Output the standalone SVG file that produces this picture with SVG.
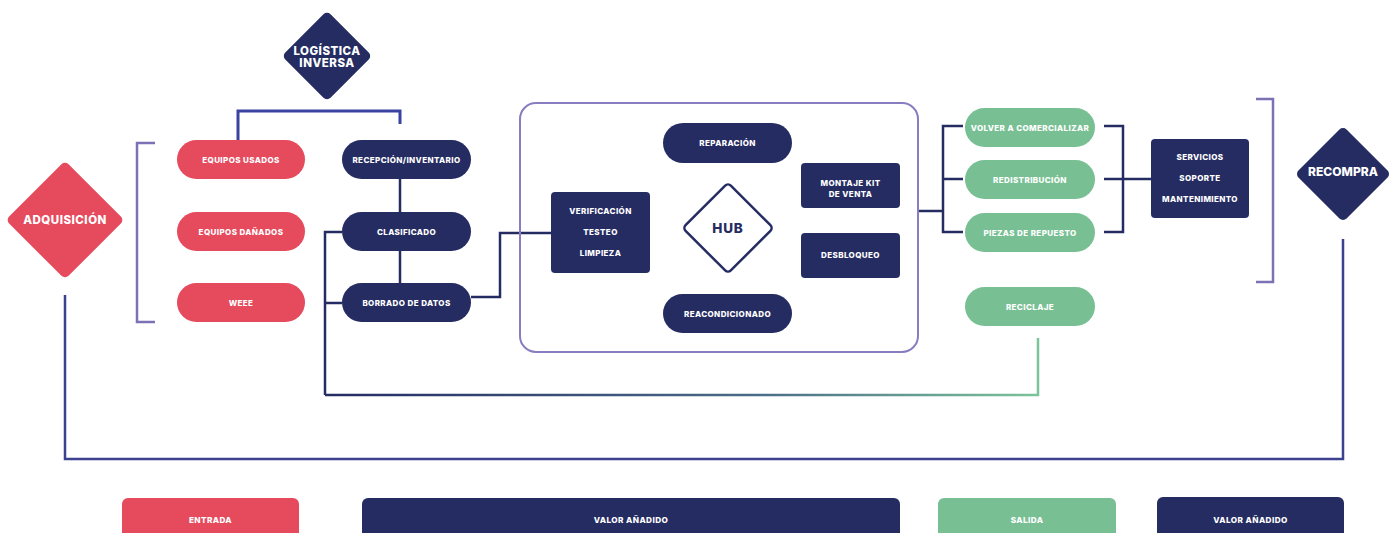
<svg xmlns="http://www.w3.org/2000/svg" width="1397" height="533" viewBox="0 0 1397 533">
<defs>
<style>
.t{font-family:Inter,"Open Sans","DejaVu Sans",sans-serif;font-weight:800;fill:#fff;text-anchor:middle}
.s{font-size:8px;letter-spacing:0.4px}
.l{font-size:11.5px;letter-spacing:0.5px}
.lg{font-size:8.2px;letter-spacing:0.4px}
.red{fill:#e64a5d}
.navy{fill:#252c62}
.green{fill:#78c093}
.c{fill:none;stroke:#252c62;stroke-width:2.5}
.br{fill:none;stroke:#7d71b6;stroke-width:2.5}
</style>
<linearGradient id="g" gradientUnits="userSpaceOnUse" x1="325" y1="0" x2="1040" y2="0">
<stop offset="0" stop-color="#252c62"/>
<stop offset="0.6" stop-color="#4a6b88"/>
<stop offset="1" stop-color="#7cc49a"/>
</linearGradient>
</defs>
<rect width="1397" height="533" fill="#fff"/>

<g id="connectors">
<path d="M238,140 V111 H400 V124" fill="none" stroke="#3a43a0" stroke-width="3"/>
<path class="c" d="M400,179 V212 M400,251 V283"/>
<path class="c" d="M342,232 H325 V395 M325,303 H342"/>
<path d="M325,395 H1038 V338" fill="none" stroke="url(#g)" stroke-width="2.5"/>
<path class="c" d="M471,297 H500 V233 H551"/>
<path class="c" d="M918,211 H943 M963,126 H943 V232 H963 M943,179 H963"/>
<path class="c" d="M1104,126 H1123 V232 H1104 M1104,179 H1151"/>
<path class="br" d="M155,143 H137 V322 H155"/>
<path class="br" d="M1256,99 H1273 V282 H1256"/>
<path d="M65,295 V459 H1343 V239" fill="none" stroke="#3c4190" stroke-width="2.5"/>
</g>

<g id="logistica">
<rect class="navy" x="-32" y="-32" width="64" height="64" rx="5" transform="translate(327,56) rotate(45)"/>
<text class="t l" x="327" y="55">LOGÍSTICA</text>
<text class="t l" x="327" y="67">INVERSA</text>
</g>
<g id="adquisicion">
<rect class="red" x="-42" y="-42" width="84" height="84" rx="5" transform="translate(65,220) rotate(45)"/>
<text class="t l" x="65" y="224">ADQUISICIÓN</text>
</g>
<g id="recompra">
<rect class="navy" x="-34" y="-34" width="68" height="68" rx="5" transform="translate(1343,174) rotate(45)"/>
<text class="t" x="1343" y="175.5" font-size="12">RECOMPRA</text>
</g>

<g id="equipos-usados"><rect class="red" x="177" y="140" width="128" height="39" rx="19.5"/><text class="t s" x="241" y="162.5">EQUIPOS USADOS</text></g>
<g id="equipos-danados"><rect class="red" x="177" y="212" width="128" height="39" rx="19.5"/><text class="t s" x="241" y="234.5">EQUIPOS DAÑADOS</text></g>
<g id="weee"><rect class="red" x="177" y="283" width="128" height="39" rx="19.5"/><text class="t s" x="241" y="305.5">WEEE</text></g>

<g id="recepcion"><rect class="navy" x="342" y="140" width="129" height="39" rx="19.5"/><text class="t s" x="406.5" y="162.5">RECEPCIÓN/INVENTARIO</text></g>
<g id="clasificado"><rect class="navy" x="342" y="212" width="129" height="39" rx="19.5"/><text class="t s" x="406.5" y="234.5">CLASIFICADO</text></g>
<g id="borrado"><rect class="navy" x="342" y="283" width="129" height="39" rx="19.5"/><text class="t s" x="406.5" y="305.5">BORRADO DE DATOS</text></g>

<g id="hub-box"><rect x="520" y="103" width="398" height="249" rx="16" fill="none" stroke="#8a7cc0" stroke-width="2"/></g>
<g id="reparacion"><rect class="navy" x="663" y="123" width="129" height="40" rx="20"/><text class="t s" x="727.5" y="146">REPARACIÓN</text></g>
<g id="reacondicionado"><rect class="navy" x="663" y="294" width="129" height="39" rx="19.5"/><text class="t s" x="727.5" y="316.5">REACONDICIONADO</text></g>
<g id="verificacion"><rect class="navy" x="551" y="192" width="99" height="81" rx="4"/>
<text class="t s" x="600.5" y="214">VERIFICACIÓN</text>
<text class="t s" x="600.5" y="235">TESTEO</text>
<text class="t s" x="600.5" y="256">LIMPIEZA</text></g>
<g id="hub"><rect x="-32" y="-32" width="64" height="64" rx="4" fill="#fff" stroke="#252c62" stroke-width="2.5" transform="translate(728,228) rotate(45)"/>
<text class="t" x="728" y="233" font-size="13.5" letter-spacing="0.8" style="fill:#252c62">HUB</text></g>
<g id="montaje"><rect class="navy" x="801" y="163" width="99" height="45" rx="4"/>
<text class="t s" x="850.5" y="185.5">MONTAJE KIT</text>
<text class="t s" x="850.5" y="197">DE VENTA</text></g>
<g id="desbloqueo"><rect class="navy" x="801" y="233" width="99" height="45" rx="4"/><text class="t s" x="850.5" y="258">DESBLOQUEO</text></g>

<g id="volver"><rect class="green" x="965" y="108" width="130" height="39" rx="19.5"/><text class="t s" x="1030" y="130.5">VOLVER A COMERCIALIZAR</text></g>
<g id="redistribucion"><rect class="green" x="965" y="160" width="130" height="39" rx="19.5"/><text class="t s" x="1030" y="182.5">REDISTRIBUCIÓN</text></g>
<g id="piezas"><rect class="green" x="965" y="213" width="130" height="39" rx="19.5"/><text class="t s" x="1030" y="235.5">PIEZAS DE REPUESTO</text></g>
<g id="reciclaje"><rect class="green" x="965" y="287" width="130" height="39" rx="19.5"/><text class="t s" x="1030" y="309.5">RECICLAJE</text></g>

<g id="servicios"><rect class="navy" x="1151" y="139" width="98" height="79" rx="4"/>
<text class="t s" x="1200" y="160">SERVICIOS</text>
<text class="t s" x="1200" y="181">SOPORTE</text>
<text class="t s" x="1200" y="202">MANTENIMIENTO</text></g>

<g id="legend-entrada"><rect class="red" x="122" y="498" width="177" height="50" rx="6"/><text class="t lg" x="210.5" y="523">ENTRADA</text></g>
<g id="legend-valor1"><rect class="navy" x="362" y="498" width="538" height="50" rx="6"/><text class="t lg" x="631" y="523">VALOR AÑADIDO</text></g>
<g id="legend-salida"><rect class="green" x="938" y="498" width="178" height="50" rx="6"/><text class="t lg" x="1027" y="523">SALIDA</text></g>
<g id="legend-valor2"><rect class="navy" x="1157" y="497" width="187" height="50" rx="6"/><text class="t lg" x="1250.5" y="523">VALOR AÑADIDO</text></g>
</svg>
